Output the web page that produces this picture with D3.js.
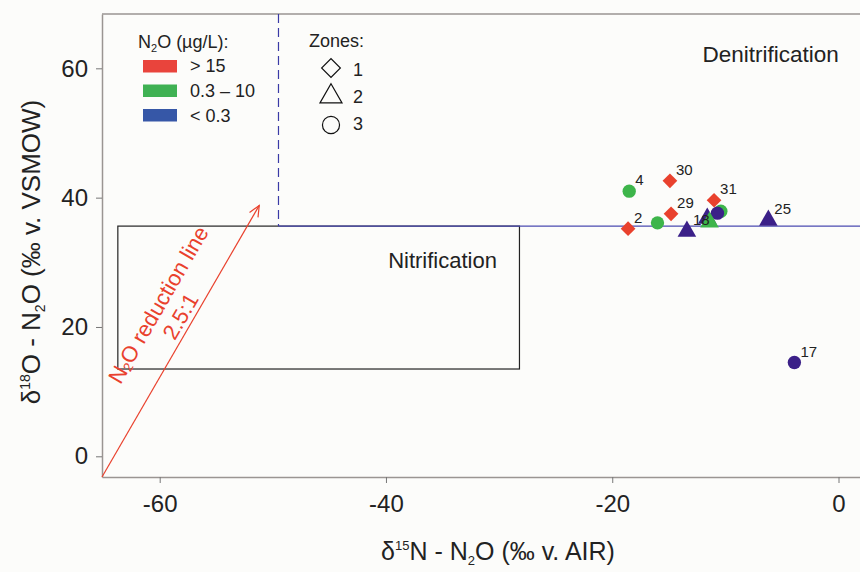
<!DOCTYPE html>
<html>
<head>
<meta charset="utf-8">
<script src="https://cdn.jsdelivr.net/npm/d3@7"></script>
<style>
  body { margin: 0; background: #fcfcfa; }
  svg { display: block; font-family: "Liberation Sans", Arial, sans-serif; }
</style>
</head>
<body>
<div class="chart"></div>
<script>
// samples, drawing order (back to front)
const sampleIds = ["4", "", "", "", "", "", "18", "25", "17", "2", "29", "30", "31"];
const zones     = [3, 3, 3, 3, 2, 2, 2, 2, 3, 1, 1, 1, 1];
const n2oClass  = [1, 1, 1, 2, 2, 1, 2, 2, 2, 0, 0, 0, 0];
const d15N      = [-18.5, -16.0, -10.4, -10.7, -11.6, -11.4, -13.4, -6.2, -3.9, -18.6, -14.8, -14.9, -11.0];
const d18O      = [41.0, 36.1, 37.9, 37.6, 36.8, 36.2, 34.8, 36.5, 14.5, 35.2, 37.5, 42.6, 39.6];

const classLabels = ["> 15", "0.3 \u2013 10", "< 0.3"];
const classColors = ["#e9412d", "#3db54a", "#3b2088"];
const swatchColors = ["#e9443c", "#3fb153", "#3657a7"];
const zoneLabels = ["1", "2", "3"];

const xTicks = [-60, -40, -20, 0];
const yTicks = [0, 20, 40, 60];

// annotation geometry, data units
const xDomain = [-65.1, 1.9];
const yDomain = [-3.2, 68.4];
const denitX = -49.5, denitY = 35.6;
const nitrifBox = {x0: -63.7, x1: -28.2, y0: 13.5, y1: 35.6};
const arrowFrom = [-65.1, -3.2], arrowTo = [-51.2, 38.8];

const W = 860, H = 572;
const svg = d3.select(".chart").append("svg")
    .attr("width", W).attr("height", H);

svg.append("rect").attr("width", W).attr("height", H).attr("fill", "#fcfcfa");

const x = d3.scaleLinear().domain(xDomain).range([102, 860]);
const y = d3.scaleLinear().domain(yDomain).range([477, 14]);

// frame
svg.append("line").attr("x1", x.range()[0]).attr("x2", x.range()[1])
    .attr("y1", 14).attr("y2", 14).attr("stroke", "#9a9592").attr("stroke-width", 1.5);

const xAxis = svg.append("g").attr("transform", "translate(0,477)")
    .call(d3.axisBottom(x).tickValues(xTicks).tickFormat(d => String(d))
      .tickSize(6).tickSizeOuter(0).tickPadding(12));
const yAxis = svg.append("g").attr("transform", "translate(102,0)")
    .call(d3.axisLeft(y).tickValues(yTicks).tickFormat(d => String(d))
      .tickSize(6).tickSizeOuter(0).tickPadding(8));

[xAxis, yAxis].forEach(g => {
  g.select(".domain").attr("stroke", "#9a9592").attr("stroke-width", 1.5);
  g.selectAll(".tick line").attr("stroke", "#777");
  g.selectAll(".tick text").attr("font-size", 24).attr("fill", "#222")
    .attr("font-family", "'Liberation Sans', Arial, sans-serif");
});

// nitrification box
svg.append("rect")
    .attr("x", x(nitrifBox.x0)).attr("y", y(nitrifBox.y1))
    .attr("width", x(nitrifBox.x1) - x(nitrifBox.x0))
    .attr("height", y(nitrifBox.y0) - y(nitrifBox.y1))
    .attr("fill", "none").attr("stroke", "#222").attr("stroke-width", 1.2);

// denitrification boundary
svg.append("line")
    .attr("x1", x(denitX)).attr("x2", x(denitX))
    .attr("y1", y(yDomain[1])).attr("y2", y(denitY))
    .attr("stroke", "#3a3aa6").attr("stroke-width", 1.2).attr("stroke-dasharray", "9,5");
svg.append("line")
    .attr("x1", x(denitX)).attr("x2", x(xDomain[1]))
    .attr("y1", y(denitY)).attr("y2", y(denitY))
    .attr("stroke", "#4b4bb0").attr("stroke-width", 1.2);

svg.append("text").attr("x", x(-6)).attr("y", y(61))
    .attr("text-anchor", "middle").attr("font-size", 22.5).attr("fill", "#222")
    .text("Denitrification");
svg.append("text").attr("x", x(-35)).attr("y", y(29.1))
    .attr("text-anchor", "middle").attr("font-size", 22).attr("fill", "#222")
    .text("Nitrification");

// N2O reduction arrow
const ax1 = x(arrowFrom[0]), ay1 = y(arrowFrom[1]);
const ax2 = x(arrowTo[0]), ay2 = y(arrowTo[1]);
const ang = Math.atan2(ay2 - ay1, ax2 - ax1);
const red = "#e9412d";
svg.append("line").attr("x1", ax1).attr("y1", ay1).attr("x2", ax2).attr("y2", ay2)
    .attr("stroke", red).attr("stroke-width", 1.2);
const head = 12, spread = 0.42;
svg.append("path")
    .attr("d", `M${ax2 - head * Math.cos(ang - spread)},${ay2 - head * Math.sin(ang - spread)}
                L${ax2},${ay2}
                L${ax2 - head * Math.cos(ang + spread)},${ay2 - head * Math.sin(ang + spread)}`)
    .attr("fill", "none").attr("stroke", red).attr("stroke-width", 1.2);

const t = 0.6;
const lab = svg.append("g")
    .attr("transform", `translate(${ax1 + t * (ax2 - ax1)},${ay1 + t * (ay2 - ay1)}) rotate(${ang * 180 / Math.PI})`)
    .attr("fill", red).attr("font-size", 22).attr("text-anchor", "middle");
const l1 = lab.append("text").attr("x", -11).attr("y", -38).attr("dominant-baseline", "central");
l1.append("tspan").text("N");
l1.append("tspan").attr("font-size", 13).attr("dy", 5).text("2");
l1.append("tspan").attr("dy", -5).text("O reduction line");
lab.append("text").attr("x", -10).attr("y", -12.5).attr("dominant-baseline", "central").text("2.5:1");

// points
const shape = [null, d3.symbolSquare, d3.symbolTriangle, d3.symbolCircle];
const size = [null, 108, 150, 140];
const pts = d3.range(sampleIds.length);

svg.append("g").selectAll("path").data(pts).join("path")
    .attr("d", i => d3.symbol(shape[zones[i]], size[zones[i]])())
    .attr("transform", i => `translate(${x(d15N[i])},${y(d18O[i])})` + (zones[i] === 1 ? " rotate(45)" : ""))
    .attr("fill", i => classColors[n2oClass[i]]);

svg.append("g").selectAll("text").data(pts.filter(i => sampleIds[i])).join("text")
    .attr("x", i => x(d15N[i]) + 6).attr("y", i => y(d18O[i]) - 6)
    .attr("font-size", 15).attr("fill", "#222")
    .text(i => sampleIds[i]);

// legend: N2O classes
const leg = svg.append("g").attr("fill", "#222").attr("font-size", 18);
const lt = leg.append("text").attr("x", 138).attr("y", 48);
lt.append("tspan").text("N");
lt.append("tspan").attr("font-size", 11).attr("dy", 4).text("2");
lt.append("tspan").attr("dy", -4).text("O (\u00b5g/L):");
leg.selectAll(".sw").data(classLabels).join("rect").attr("class", "sw")
    .attr("x", 143).attr("y", (d, i) => 60 + i * 24.5).attr("width", 34).attr("height", 12.5)
    .attr("fill", (d, i) => swatchColors[i]);
leg.selectAll(".cl").data(classLabels).join("text").attr("class", "cl")
    .attr("x", 190).attr("y", (d, i) => 72 + i * 25)
    .text(d => d);

// legend: zones
leg.append("text").attr("x", 309).attr("y", 47).text("Zones:");
const legShape = [d3.symbolSquare, d3.symbolTriangle, d3.symbolCircle];
const legSize = [175, 210, 230];
leg.selectAll(".zs").data(zoneLabels).join("path").attr("class", "zs")
    .attr("d", (d, i) => d3.symbol(legShape[i], legSize[i])())
    .attr("transform", (d, i) => `translate(331,${68 + i * 28.5})` + (i === 0 ? " rotate(45)" : ""))
    .attr("fill", "none").attr("stroke", "#111").attr("stroke-width", 1.2);
leg.selectAll(".zl").data(zoneLabels).join("text").attr("class", "zl")
    .attr("x", 353).attr("y", (d, i) => 76 + i * 27)
    .text(d => d);

// axis titles
const xt = svg.append("text").attr("x", 498).attr("y", 560)
    .attr("text-anchor", "middle").attr("font-size", 25).attr("fill", "#222");
xt.append("tspan").text("\u03b4");
xt.append("tspan").attr("font-size", 13).attr("dy", -10).text("15");
xt.append("tspan").attr("dy", 10).text("N - N");
xt.append("tspan").attr("font-size", 13).attr("dy", 5).text("2");
xt.append("tspan").attr("dy", -5).text("O (\u2030 v. AIR)");

const yt = svg.append("text").attr("transform", "translate(40,252) rotate(-90)")
    .attr("text-anchor", "middle").attr("font-size", 26).attr("fill", "#222");
yt.append("tspan").text("\u03b4");
yt.append("tspan").attr("font-size", 14).attr("dy", -10).text("18");
yt.append("tspan").attr("dy", 10).text("O - N");
yt.append("tspan").attr("font-size", 14).attr("dy", 5).text("2");
yt.append("tspan").attr("dy", -5).text("O (\u2030 v. VSMOW)");
</script>
</body>
</html>
